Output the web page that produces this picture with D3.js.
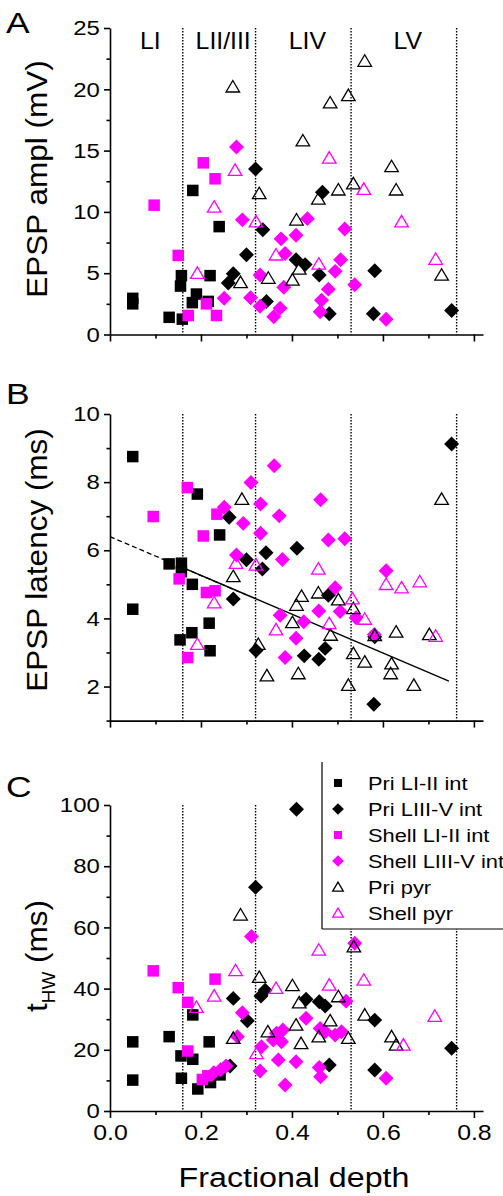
<!DOCTYPE html>
<html>
<head>
<meta charset="utf-8">
<script src="https://cdn.jsdelivr.net/npm/d3@7"></script>
<style>
  body { margin: 0; background: #fff; }
  svg { display: block; font-family: Arial, "Liberation Sans", sans-serif; }
</style>
</head>
<body>
<div id="chart"></div>
<script>
// ---- data: [fractional depth, value] ----
// Panel A: EPSP amplitude (mV)
const amplPriLI_II = [[0.05,2.95],[0.05,2.5],[0.13,1.4],[0.159,1.25],[0.157,4.8],[0.155,3.95],[0.182,11.75],[0.19,3.3],[0.181,2.6],[0.216,2.7],[0.22,4.8],[0.24,8.8]];
const amplPriLIII_V = [[0.32,13.5],[0.467,11.6],[0.336,8.55],[0.3,6.5],[0.409,6.1],[0.429,5.7],[0.46,4.85],[0.582,5.2],[0.271,4.95],[0.26,4.2],[0.344,2.7],[0.482,1.7],[0.579,1.7],[0.751,1.95]];
const amplShellLI_II = [[0.205,14.0],[0.231,12.7],[0.097,10.55],[0.15,6.45],[0.212,2.5],[0.234,1.55],[0.172,1.55]];
const amplShellLIII_V = [[0.278,15.3],[0.291,9.35],[0.434,9.45],[0.409,8.1],[0.376,7.8],[0.385,6.6],[0.516,8.6],[0.507,6.1],[0.495,5.15],[0.538,4.05],[0.33,4.85],[0.382,3.85],[0.48,3.7],[0.465,2.8],[0.462,1.85],[0.607,1.25],[0.374,2.15],[0.36,1.45],[0.33,2.3],[0.309,3.0],[0.251,2.95]];
const amplPriPyr = [[0.27,20.2],[0.56,22.3],[0.484,18.9],[0.524,19.5],[0.424,15.8],[0.619,13.7],[0.328,11.5],[0.458,11.05],[0.502,11.8],[0.535,12.3],[0.629,11.8],[0.41,9.35],[0.416,5.35],[0.729,4.85],[0.401,4.45],[0.348,4.6],[0.287,4.25]];
const amplShellPyr = [[0.482,14.4],[0.275,13.4],[0.229,10.4],[0.558,11.85],[0.641,9.2],[0.321,9.2],[0.365,6.5],[0.459,5.75],[0.716,6.15],[0.192,5.0]];

// Panel B: EPSP latency (ms)
const latPriLI_II = [[0.05,8.75],[0.192,7.65],[0.241,6.45],[0.13,5.6],[0.157,5.62],[0.157,5.37],[0.181,5.0],[0.05,4.27],[0.218,3.86],[0.18,3.58],[0.154,3.37],[0.22,3.05]];
const latPriLIII_V = [[0.751,9.12],[0.262,6.97],[0.411,6.06],[0.343,5.93],[0.3,5.72],[0.335,5.45],[0.271,4.57],[0.48,4.68],[0.321,3.06],[0.582,3.46],[0.473,3.12],[0.427,2.9],[0.459,2.8],[0.58,1.48]];
const latShellLI_II = [[0.17,7.84],[0.095,6.99],[0.235,7.06],[0.205,6.42],[0.152,5.16],[0.212,4.76],[0.231,4.81],[0.171,2.85]];
const latShellLIII_V = [[0.361,8.48],[0.31,7.99],[0.463,7.48],[0.331,7.36],[0.251,7.26],[0.293,6.79],[0.372,7.01],[0.331,6.5],[0.48,6.3],[0.516,6.34],[0.278,5.86],[0.379,5.73],[0.607,5.4],[0.495,4.9],[0.459,4.22],[0.506,4.2],[0.541,4.02],[0.374,4.09],[0.426,3.9],[0.409,3.42],[0.385,2.85],[0.581,3.53]];
const latPriPyr = [[0.29,7.5],[0.729,7.5],[0.271,5.23],[0.458,4.75],[0.421,4.65],[0.41,4.39],[0.401,3.88],[0.502,4.55],[0.535,4.29],[0.485,3.51],[0.582,3.5],[0.629,3.6],[0.702,3.53],[0.535,2.97],[0.56,2.72],[0.619,2.67],[0.617,2.38],[0.414,2.38],[0.345,2.32],[0.524,2.04],[0.668,2.04],[0.326,3.24]];
const latShellPyr = [[0.458,5.45],[0.277,5.62],[0.321,5.57],[0.607,5.0],[0.641,4.9],[0.681,5.08],[0.533,4.58],[0.56,3.98],[0.482,3.85],[0.365,3.67],[0.229,4.46],[0.192,3.24],[0.716,3.48]];
// regression lines drawn in panel B
const latFitDashed = [[0, 6.4], [0.3, 4.69]];
const latFitSolid = [[0.16, 5.49], [0.745, 2.16]];

// Panel C: half-width time (ms)
const thwPriLI_II = [[0.05,22.6],[0.05,10.1],[0.13,24.3],[0.156,18.0],[0.157,10.7],[0.182,16.9],[0.182,31.4],[0.193,7.2],[0.218,22.6],[0.221,9.3],[0.242,11.8]];
const thwPriLIII_V = [[0.41,98.6],[0.32,73.1],[0.332,37.6],[0.341,39.5],[0.271,36.8],[0.302,29.5],[0.431,36.5],[0.46,35.7],[0.473,34.3],[0.582,29.7],[0.751,20.5],[0.582,13.4],[0.482,15.0],[0.264,14.7]];
const thwShellLI_II = [[0.095,45.8],[0.231,43.1],[0.15,40.3],[0.171,35.5],[0.171,19.6],[0.203,10.3],[0.215,11.5]];
const thwShellLIII_V = [[0.311,57.0],[0.538,54.8],[0.291,32.1],[0.28,24.3],[0.431,30.3],[0.38,26.5],[0.366,25.4],[0.359,23.2],[0.377,22.6],[0.462,27.0],[0.473,25.9],[0.495,24.8],[0.509,25.9],[0.519,35.9],[0.333,21.0],[0.33,13.1],[0.37,16.7],[0.409,16.1],[0.385,8.5],[0.46,14.2],[0.463,11.2],[0.607,10.7],[0.228,12.5],[0.243,13.5],[0.255,14.7]];
const thwPriPyr = [[0.287,64.1],[0.536,53.7],[0.328,43.7],[0.401,41.0],[0.416,35.4],[0.502,37.4],[0.56,31.4],[0.409,28.1],[0.484,29.5],[0.347,25.9],[0.271,23.8],[0.459,24.3],[0.524,23.8],[0.42,22.1],[0.619,24.3],[0.629,21.6]];
const thwShellPyr = [[0.459,52.6],[0.276,45.9],[0.365,40.1],[0.482,41.2],[0.558,42.8],[0.229,37.6],[0.19,33.9],[0.322,18.8],[0.645,21.6],[0.714,31.0]];

// series / legend
const seriesNames = ["Pri LI-II int", "Pri LIII-V int", "Shell LI-II int", "Shell LIII-V int", "Pri pyr", "Shell pyr"];
const seriesColors = ["#000000", "#000000", "#ff00ff", "#ff00ff", "#000000", "#ff00ff"];
const seriesShapes = ["square", "diamond", "square", "diamond", "triangle", "triangle"];

// cortical layer borders (fractional depth)
const layerBounds = [0.16, 0.32, 0.53, 0.762];
const layerNames = ["LI", "LII/III", "LIV", "LV"];

const xTicks = [0, 0.2, 0.4, 0.6, 0.8];
const xMinorTicks = [0.1, 0.3, 0.5, 0.7];

// ---- layout ----
const W = 503, H = 1196;
const svg = d3.select("#chart").append("svg").attr("width", W).attr("height", H);

const x = d3.scaleLinear().domain([0, 0.82]).range([110, 483]);

const panels = [
  {letter: "A", top: 28, bottom: 334.5, domain: [0, 25], ticks: d3.range(0, 26, 5), minor: d3.range(2.5, 25, 5),
   series: [amplPriLI_II, amplPriLIII_V, amplShellLI_II, amplShellLIII_V, amplPriPyr, amplShellPyr],
   letterY: 33},
  {letter: "B", top: 414, bottom: 720.6, domain: [1, 10], ticks: [2, 4, 6, 8, 10], minor: [1, 3, 5, 7, 9],
   series: [latPriLI_II, latPriLIII_V, latShellLI_II, latShellLIII_V, latPriPyr, latShellPyr],
   letterY: 404},
  {letter: "C", top: 805, bottom: 1111, domain: [0, 100], ticks: d3.range(0, 101, 20), minor: d3.range(10, 100, 20),
   series: [thwPriLI_II, thwPriLIII_V, thwShellLI_II, thwShellLIII_V, thwPriPyr, thwShellPyr],
   letterY: 797}
];

// text with a slight horizontal stretch, like the original lettering
function addText(sel, px, py, str, size, opt) {
  opt = opt || {};
  const g = sel.append("g")
    .attr("transform", `translate(${px},${py})${opt.rotate ? " rotate(-90)" : ""} scale(${opt.sx || 1.15},1)`);
  return g.append("text")
    .attr("text-anchor", opt.anchor || "middle")
    .attr("font-size", size)
    .attr("fill", "#000")
    .text(str);
}

function drawMarker(sel, shape, color, s) {
  if (shape === "square") {
    sel.append("rect").attr("x", -s / 2).attr("y", -s / 2).attr("width", s).attr("height", s).attr("fill", color);
  } else if (shape === "diamond") {
    const r = s * 0.65;
    sel.append("path").attr("d", `M0,${-r}L${r},0L0,${r}L${-r},0Z`).attr("fill", color);
  } else {
    const w = s * 1.18, h = s;
    sel.append("path").attr("d", `M0,${-h * 0.55}L${w / 2},${h * 0.45}L${-w / 2},${h * 0.45}Z`)
      .attr("fill", "none").attr("stroke", color).attr("stroke-width", 1.3);
  }
}

panels.forEach((p, pi) => {
  const y = d3.scaleLinear().domain(p.domain).range([p.bottom, p.top]);
  const g = svg.append("g");

  // layer borders
  g.selectAll("line.layer").data(layerBounds).enter().append("line")
    .attr("x1", d => x(d)).attr("x2", d => x(d))
    .attr("y1", p.top).attr("y2", p.bottom)
    .attr("stroke", "#000").attr("stroke-width", 1.4).attr("stroke-dasharray", "1.5,1.5");

  // axes
  const yAxis = g.append("g").attr("transform", `translate(${x.range()[0]},0)`)
    .call(d3.axisLeft(y).tickValues(p.ticks).tickSize(6).tickSizeOuter(0).tickPadding(3));
  g.append("g").attr("transform", `translate(${x.range()[0]},0)`)
    .call(d3.axisLeft(y).tickValues(p.minor).tickSize(3.5).tickFormat("")).select(".domain").remove();
  yAxis.selectAll("text").attr("font-size", 21).attr("font-family", null).attr("transform", "scale(1.14,1)");

  const xAxis = g.append("g").attr("transform", `translate(0,${p.bottom})`)
    .call(d3.axisBottom(x).tickValues(xTicks).tickSize(7).tickSizeOuter(0).tickPadding(6)
      .tickFormat(pi === 2 ? d3.format(".1f") : ""));
  g.append("g").attr("transform", `translate(0,${p.bottom})`)
    .call(d3.axisBottom(x).tickValues(xMinorTicks).tickSize(4).tickFormat("")).select(".domain").remove();
  xAxis.selectAll("text").attr("font-size", 22).attr("font-family", null).attr("transform", "scale(1.13,1)");

  g.selectAll(".domain, .tick line").attr("stroke", "#000").attr("stroke-width", 1.6);

  // regression lines in panel B
  if (pi === 1) {
    const line = d3.line().x(d => x(d[0])).y(d => y(d[1]));
    g.append("path").attr("d", line(latFitDashed)).attr("fill", "none")
      .attr("stroke", "#000").attr("stroke-width", 1.3).attr("stroke-dasharray", "5,3");
    g.append("path").attr("d", line(latFitSolid)).attr("fill", "none")
      .attr("stroke", "#000").attr("stroke-width", 1.5);
  }

  // points
  p.series.forEach((pts, si) => {
    g.append("g").selectAll("g").data(pts).enter().append("g")
      .attr("transform", d => `translate(${x(d[0])},${y(d[1])})`)
      .each(function () { drawMarker(d3.select(this), seriesShapes[si], seriesColors[si], 11.5); });
  });

  // panel letter
  addText(svg, 6, p.letterY, p.letter, 30, {anchor: "start", sx: 1.18});
});

// layer names above panel A
const layerEdges = [0].concat(layerBounds);
layerNames.forEach((nm, i) => {
  addText(svg, x((layerEdges[i] + layerEdges[i + 1]) / 2) + 4, 49, nm, 23, {sx: 1.08});
});

// y axis titles
addText(svg, 47, 179, "EPSP ampl (mV)", 30, {rotate: true, sx: 1.05});
addText(svg, 47, 560, "EPSP latency (ms)", 30, {rotate: true, sx: 1.05});
const cTitle = addText(svg, 47, 956, "", 30, {rotate: true, sx: 1.05});
cTitle.append("tspan").text("t");
cTitle.append("tspan").attr("font-size", 18).attr("dy", 8).text("HW");
cTitle.append("tspan").attr("dy", -8).text(" (ms)");

// x axis title
addText(svg, 294, 1187, "Fractional depth", 28, {sx: 1.15});

// legend
const lg = svg.append("g");
lg.append("rect").attr("x", 322).attr("y", 762).attr("width", 200).attr("height", 167).attr("fill", "#fff");
lg.append("line").attr("x1", 322).attr("x2", 322).attr("y1", 762).attr("y2", 929).attr("stroke", "#000").attr("stroke-width", 1.2);
lg.append("line").attr("x1", 322).attr("x2", 503).attr("y1", 929).attr("y2", 929).attr("stroke", "#000").attr("stroke-width", 1.2);
seriesNames.forEach((nm, i) => {
  const cy = 783 + i * 26;
  const m = lg.append("g").attr("transform", `translate(338,${cy})`);
  drawMarker(m, seriesShapes[i], seriesColors[i], seriesShapes[i] === "square" ? 8 : 9);
  addText(lg, 368, cy + 7, nm, 19, {anchor: "start", sx: 1.15});
});
</script>
</body>
</html>
